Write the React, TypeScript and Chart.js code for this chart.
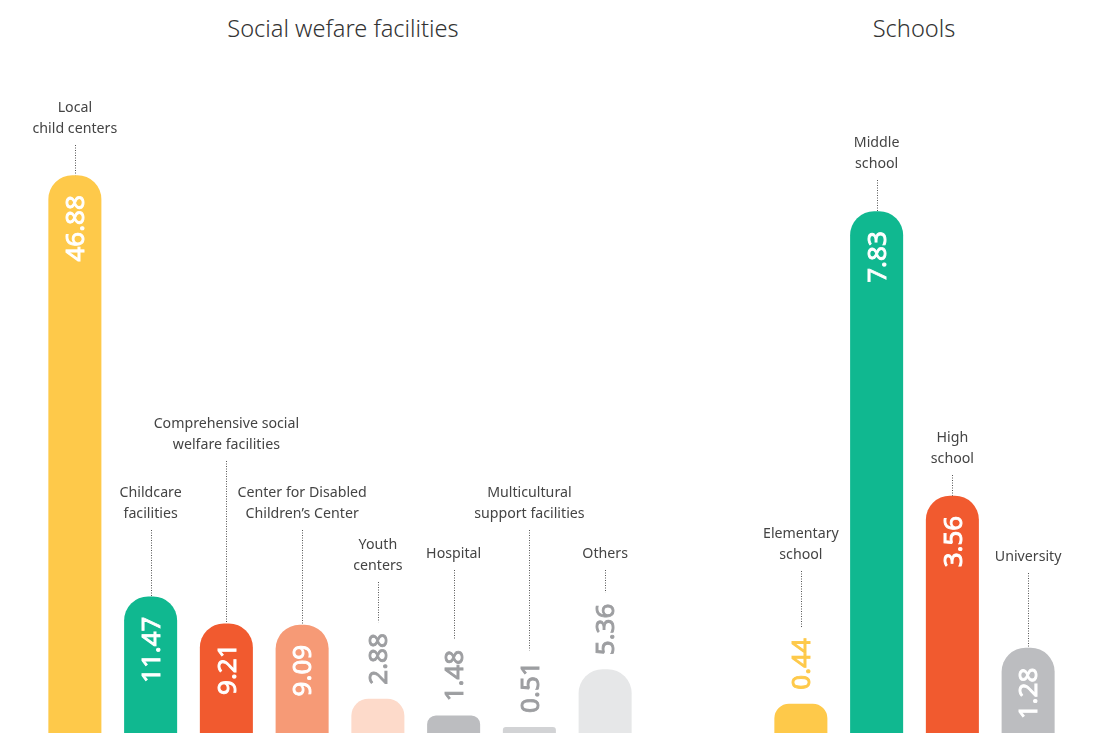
import React, { useEffect, useRef } from "react";
import { Chart, registerables } from "chart.js";

Chart.register(...registerables);

// ---------- data ----------
const welfareCategories: string[][] = [
  ["Local", "child centers"],
  ["Childcare", "facilities"],
  ["Comprehensive social", "welfare facilities"],
  ["Center for Disabled", "Children’s Center"],
  ["Youth", "centers"],
  ["Hospital"],
  ["Multicultural", "support facilities"],
  ["Others"],
];
const welfareValues: number[] = [46.88, 11.47, 9.21, 9.09, 2.88, 1.48, 0.51, 5.36];

const schoolCategories: string[][] = [
  ["Elementary", "school"],
  ["Middle", "school"],
  ["High", "school"],
  ["University"],
];
const schoolValues: number[] = [0.44, 7.83, 3.56, 1.28];

const welfareTitle = "Social wefare facilities";
const schoolTitle = "Schools";

// ---------- styles / layout ----------
const welfareColors = ["#FEC94A", "#10B890", "#F15A2F", "#F69A76", "#FDDACA", "#BCBDC0", "#D2D3D5", "#E6E7E8"];
const welfareOutsideColors = ["#9D9EA1", "#9D9EA1", "#9D9EA1", "#9D9EA1", "#9D9EA1", "#9D9EA1", "#9D9EA1", "#9D9EA1"];
const welfareLeaderTop = [145, 530, 461, 530, 582, 570, 530, 570];

const schoolColors = ["#FEC94A", "#10B890", "#F15A2F", "#BCBDC0"];
const schoolOutsideColors = ["#FEC94A", "#9D9EA1", "#9D9EA1", "#9D9EA1"];
const schoolLeaderTop = [571, 180, 475, 573];

const LABEL_FONT = '14.2px "Noto Sans", "Open Sans", sans-serif';
const VALUE_FONT = '26px "Noto Sans", "Open Sans", sans-serif';

function makeLabelPlugin(cats: string[][], leaderTop: number[], outsideColors: string[]) {
  return {
    id: "barLabels",
    afterDatasetsDraw(chart: any) {
      const ctx: CanvasRenderingContext2D = chart.ctx;
      const meta = chart.getDatasetMeta(0);
      const values: number[] = chart.data.datasets[0].data;
      meta.data.forEach((bar: any, i: number) => {
        const x = bar.x;
        const top = bar.y;
        const h = bar.base - bar.y;
        const txt = values[i].toFixed(2);
        ctx.save();
        ctx.font = VALUE_FONT;
        const tw = ctx.measureText(txt).width;
        const capH = 18.6;
        const inside = h > 78;
        let leaderEnd: number;
        ctx.translate(x, 0);
        const col = inside ? "#ffffff" : outsideColors[i];
        if (inside) {
          ctx.translate(0, top + 20);
          ctx.rotate(-Math.PI / 2);
          ctx.textAlign = "right";
          leaderEnd = top;
        } else {
          ctx.translate(0, top - 14);
          ctx.rotate(-Math.PI / 2);
          ctx.textAlign = "left";
          leaderEnd = top - 14 - tw - 11;
        }
        ctx.textBaseline = "alphabetic";
        ctx.fillStyle = col;
        ctx.strokeStyle = col;
        ctx.lineWidth = 0.9;
        ctx.fillText(txt, 0, capH / 2);
        ctx.strokeText(txt, 0, capH / 2);
        ctx.restore();

        // leader line
        ctx.save();
        ctx.strokeStyle = "#555555";
        ctx.lineWidth = 1;
        ctx.setLineDash([1, 1.5]);
        ctx.beginPath();
        const lx = Math.round(x) + 0.5;
        ctx.moveTo(lx, leaderTop[i]);
        ctx.lineTo(lx, leaderEnd);
        ctx.stroke();
        ctx.restore();

        // category label
        ctx.save();
        ctx.font = LABEL_FONT;
        ctx.fillStyle = "#444444";
        ctx.textAlign = "center";
        ctx.textBaseline = "middle";
        const lines = cats[i];
        lines.forEach((ln, j) => {
          const yy = leaderTop[i] - 16 - (lines.length - 1 - j) * 21.5;
          ctx.fillText(ln, x, yy);
        });
        ctx.restore();
      });
    },
  };
}

function BarGroup(props: {
  cats: string[][];
  values: number[];
  colors: string[];
  outsideColors: string[];
  leaderTop: number[];
  yMax: number;
  left: number;
  width: number;
  padLeft: number;
  padRight: number;
}) {
  const ref = useRef<HTMLCanvasElement | null>(null);
  useEffect(() => {
    if (!ref.current) return;
    const chart = new Chart(ref.current, {
      type: "bar",
      data: {
        labels: props.cats.map((c) => c.join(" ")),
        datasets: [
          {
            data: props.values,
            backgroundColor: props.colors,
            borderRadius: { topLeft: 24, topRight: 24, bottomLeft: 0, bottomRight: 0 },
            borderSkipped: false,
            barPercentage: 0.7,
            categoryPercentage: 1,
          },
        ],
      },
      options: {
        animation: false,
        responsive: false,
        maintainAspectRatio: false,
        layout: { padding: { left: props.padLeft, right: props.padRight, top: 0, bottom: 0 } },
        plugins: { legend: { display: false }, tooltip: { enabled: false }, title: { display: false } },
        scales: {
          x: { display: false, offset: true, grid: { display: false } },
          y: { display: false, min: 0, max: props.yMax, grid: { display: false } },
        },
      },
      plugins: [makeLabelPlugin(props.cats, props.leaderTop, props.outsideColors)],
    });
    return () => chart.destroy();
  }, []);
  return (
    <canvas
      ref={ref}
      width={props.width}
      height={733}
      style={{ position: "absolute", left: props.left, top: 0, width: props.width, height: 733 }}
    />
  );
}

const titleStyle: React.CSSProperties = {
  position: "absolute",
  top: 12,
  fontFamily: '"Noto Sans", "Open Sans", sans-serif',
  fontWeight: 300,
  fontSize: 23.6,
  color: "#333333",
  textAlign: "center",
  lineHeight: "32px",
  whiteSpace: "nowrap",
};

export default function App() {
  return (
    <div
      style={{
        position: "fixed",
        left: 0,
        top: 0,
        width: 1100,
        height: 733,
        background: "#ffffff",
        overflow: "hidden",
      }}
    >
      <div style={{ ...titleStyle, left: 143, width: 400 }}>{welfareTitle}</div>
      <div style={{ ...titleStyle, left: 764, width: 300 }}>{schoolTitle}</div>
      <BarGroup
        cats={welfareCategories}
        values={welfareValues}
        colors={welfareColors}
        outsideColors={welfareOutsideColors}
        leaderTop={welfareLeaderTop}
        yMax={61.6}
        left={0}
        width={690}
        padLeft={37}
        padRight={47}
      />
      <BarGroup
        cats={schoolCategories}
        values={schoolValues}
        colors={schoolColors}
        outsideColors={schoolOutsideColors}
        leaderTop={schoolLeaderTop}
        yMax={11}
        left={700}
        width={400}
        padLeft={63}
        padRight={34}
      />
    </div>
  );
}
